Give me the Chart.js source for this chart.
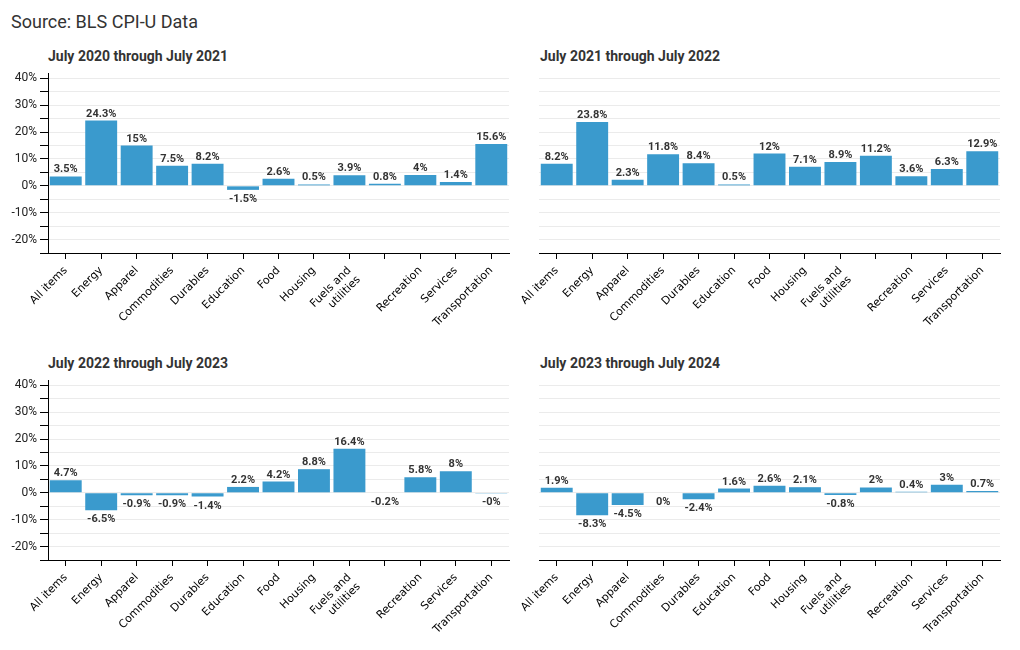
<!DOCTYPE html>
<html><head><meta charset="utf-8">
<script src="https://cdn.jsdelivr.net/npm/chart.js@4.4.1/dist/chart.umd.min.js"></script>
<style>
html,body{margin:0;padding:0;background:#fff;overflow:hidden;width:1020px;height:650px;font-family:Roboto,sans-serif;}
.t{position:absolute;white-space:nowrap;line-height:1;margin:0;}
.src{font-size:18px;color:#333;left:11px;top:13px;}
.pt{font-size:14px;font-weight:bold;color:#333;}
canvas{position:absolute;}
</style></head><body>
<div class="t src">Source: BLS CPI-U Data</div>
<div class="t pt" id="t1" style="left:48px;top:49px"></div>
<div class="t pt" id="t2" style="left:540px;top:49px"></div>
<div class="t pt" id="t3" style="left:48px;top:356px"></div>
<div class="t pt" id="t4" style="left:540px;top:356px"></div>
<canvas id="c1" width="515" height="280" style="left:0;top:60px"></canvas>
<canvas id="c2" width="500" height="280" style="left:510px;top:60px"></canvas>
<canvas id="c3" width="515" height="280" style="left:0;top:367px"></canvas>
<canvas id="c4" width="500" height="280" style="left:510px;top:367px"></canvas>
<script>
// Data
const categories = ['All items','Energy','Apparel','Commodities','Durables','Education','Food','Housing',['Fuels and','utilities'],'','Recreation','Services','Transportation'];
const panelTitles = ['July 2020 through July 2021','July 2021 through July 2022','July 2022 through July 2023','July 2023 through July 2024'];
const change2021 = [3.5, 24.3, 15, 7.5, 8.2, -1.5, 2.6, 0.5, 3.9, 0.8, 4, 1.4, 15.6];
const change2022 = [8.2, 23.8, 2.3, 11.8, 8.4, 0.5, 12, 7.1, 8.9, 11.2, 3.6, 6.3, 12.9];
const change2023 = [4.7, -6.5, -0.9, -0.9, -1.4, 2.2, 4.2, 8.8, 16.4, -0.2, 5.8, 8, -0.04];
const change2024 = [1.9, -8.3, -4.5, 0, -2.4, 1.6, 2.6, 2.1, -0.8, 2, 0.4, 3, 0.7];
const yMin = -25, yMax = 42, yStep = 5;

panelTitles.forEach((t,i)=>{ document.getElementById('t'+(i+1)).textContent = t; });

const barColor = '#3a9acd';
function fmt(v){ const r = Math.round(Math.abs(v)*10)/10; return (v<0?'-':'') + r + '%'; }

const valueLabels = {
  id:'valueLabels',
  afterDatasetsDraw(chart){
    const ctx = chart.ctx, meta = chart.getDatasetMeta(0), data = chart.data.datasets[0].data;
    ctx.save();
    ctx.font = 'bold 11px Roboto';
    ctx.fillStyle = '#333';
    ctx.textAlign = 'center';
    ctx.textBaseline = 'alphabetic';
    meta.data.forEach((bar,i)=>{
      const v = data[i];
      if (v > 0) ctx.fillText(fmt(v), bar.x, Math.min(bar.y, bar.base) - 4);
      else ctx.fillText(fmt(v), bar.x, Math.max(bar.y, bar.base) + 12);
    });
    ctx.restore();
  }
};

function makeChart(id, values, showY, yWidth, padRight){
  return new Chart(document.getElementById(id), {
    type:'bar',
    data:{labels:categories, datasets:[{data:values, backgroundColor:barColor, barPercentage:0.9, categoryPercentage:1}]},
    options:{
      responsive:false, animation:false, devicePixelRatio:1,
      layout:{padding:{top:13,right:padRight,bottom:0,left:0}},
      plugins:{legend:{display:false}, tooltip:{enabled:false}, title:{display:false}},
      scales:{
        x:{
          grid:{display:true, drawOnChartArea:false, offset:false, tickLength:6, tickColor:'#000'},
          border:{color:'#000', width:1},
          ticks:{maxRotation:45, minRotation:45, autoSkip:false, color:'#000', font:{size:11, family:'"DejaVu Sans", sans-serif'}, padding:5},
          afterFit(s){ s.height = 87; }
        },
        y:{
          min:yMin, max:yMax,
          ticks:{stepSize:yStep, includeBounds:false, autoSkip:false, display:showY,
            callback:v => (v % 10 === 0 ? v + '%' : ''), color:'#222', font:{size:12, family:'Roboto'}, padding:3},
          grid:{color:'#ebebeb', drawTicks:showY, tickLength:8, tickColor:'#000'},
          border:{display:showY, color:'#000', width:1},
          afterFit(s){ s.width = yWidth; }
        }
      }
    },
    plugins:[valueLabels]
  });
}
makeChart('c1', change2021, true, 48, 6);
makeChart('c2', change2022, false, 29, 10);
makeChart('c3', change2023, true, 48, 6);
makeChart('c4', change2024, false, 29, 10);
</script>
</body></html>
